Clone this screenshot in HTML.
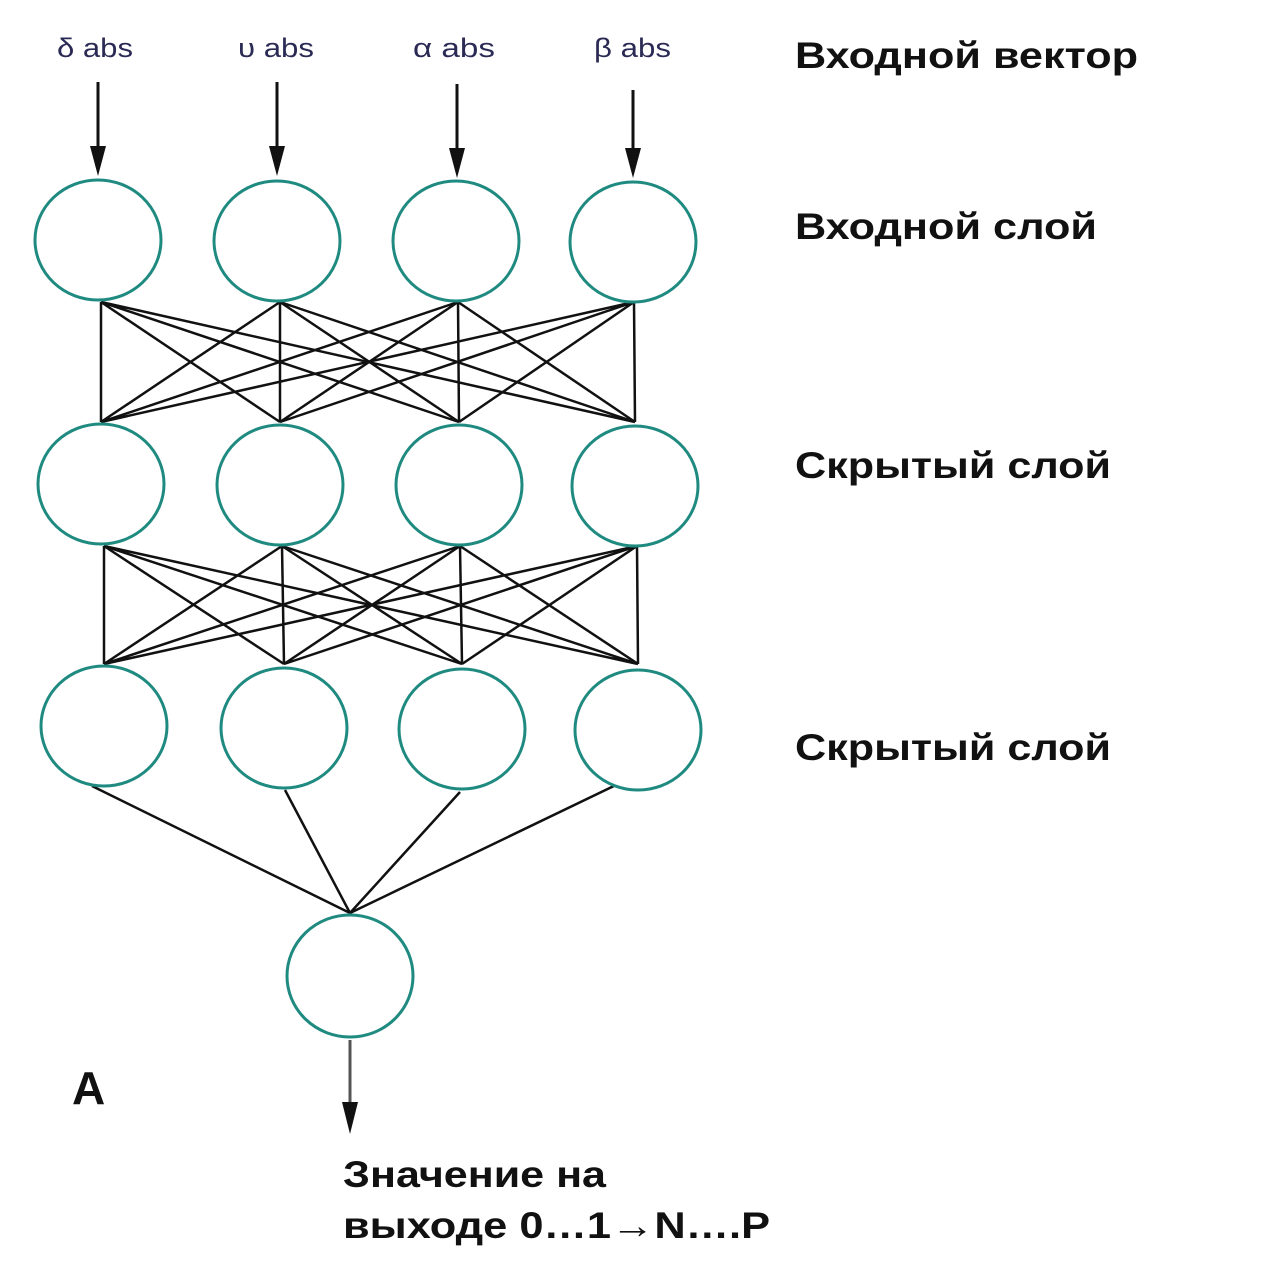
<!DOCTYPE html>
<html><head><meta charset="utf-8"><style>
html,body{margin:0;padding:0;background:#fff;}
svg{display:block;}
.r{font-family:"Liberation Sans",sans-serif;font-weight:bold;font-size:37px;fill:#111;}
.i{font-family:"Liberation Sans",sans-serif;font-size:27px;fill:#2a2a55;}
</style></head><body>
<svg width="1269" height="1269" viewBox="0 0 1269 1269" xmlns="http://www.w3.org/2000/svg">
<g class="i">
<text x="57" y="57" textLength="76" lengthAdjust="spacingAndGlyphs">δ abs</text>
<text x="238" y="57" textLength="76" lengthAdjust="spacingAndGlyphs">υ abs</text>
<text x="413" y="57" textLength="82" lengthAdjust="spacingAndGlyphs">α abs</text>
<text x="594" y="57" textLength="77" lengthAdjust="spacingAndGlyphs">β abs</text>
</g>
<g stroke="#111" stroke-width="3" fill="none">
<line x1="98" y1="82" x2="98" y2="150"/>
<line x1="277" y1="82" x2="277" y2="150"/>
<line x1="457" y1="84" x2="457" y2="152"/>
<line x1="633" y1="90" x2="633" y2="152"/>
<line x1="350" y1="1040" x2="350" y2="1106" stroke="#555"/>
</g>
<g fill="#111">
<polygon points="90,146 106,146 98,176"/>
<polygon points="269,146 285,146 277,176"/>
<polygon points="449,148 465,148 457,178"/>
<polygon points="625,148 641,148 633,178"/>
<polygon points="342,1102 358,1102 350,1134"/>
</g>
<g stroke="#111" stroke-width="2.5" fill="none">
<path d="M101,302L101,422M101,302L280,422M101,302L459,422M101,302L635,422
M280,302L101,422M280,302L280,422M280,302L459,422M280,302L635,422
M458,302L101,422M458,302L280,422M458,302L459,422M458,302L635,422
M634,302L101,422M634,302L280,422M634,302L459,422M634,302L635,422"/>
<path d="M104,546L104,664M104,546L284,664M104,546L462,664M104,546L638,664
M282,546L104,664M282,546L284,664M282,546L462,664M282,546L638,664
M460,546L104,664M460,546L284,664M460,546L462,664M460,546L638,664
M637,546L104,664M637,546L284,664M637,546L462,664M637,546L638,664"/>
<path d="M92,786L350,913M285,790L350,913M460,792L350,913M618,784L350,913"/>
</g>
<g stroke="#1f8a80" stroke-width="3" fill="#fff">
<ellipse cx="98" cy="240" rx="63" ry="60"/><ellipse cx="277" cy="241" rx="63" ry="60"/><ellipse cx="456" cy="241" rx="63" ry="60"/><ellipse cx="633" cy="242" rx="63" ry="60"/>
<ellipse cx="101" cy="484" rx="63" ry="60"/><ellipse cx="280" cy="485" rx="63" ry="60"/><ellipse cx="459" cy="485" rx="63" ry="60"/><ellipse cx="635" cy="486" rx="63" ry="60"/>
<ellipse cx="104" cy="726" rx="63" ry="60"/><ellipse cx="284" cy="728" rx="63" ry="60"/><ellipse cx="462" cy="729" rx="63" ry="60"/><ellipse cx="638" cy="730" rx="63" ry="60"/>
<ellipse cx="350" cy="976" rx="63" ry="61"/>
</g>
<text class="r" x="795" y="68" textLength="343" lengthAdjust="spacingAndGlyphs">Входной вектор</text>
<text class="r" x="795" y="239" textLength="302" lengthAdjust="spacingAndGlyphs">Входной слой</text>
<text class="r" x="795" y="478" textLength="316" lengthAdjust="spacingAndGlyphs">Скрытый слой</text>
<text class="r" x="795" y="760" textLength="316" lengthAdjust="spacingAndGlyphs">Скрытый слой</text>
<text class="r" x="72" y="1104" style="font-size:46px">A</text>
<text class="r" x="343" y="1187" textLength="263" lengthAdjust="spacingAndGlyphs">Значение на</text>
<text class="r" x="343" y="1238" textLength="427" lengthAdjust="spacingAndGlyphs">выходе 0…1→N….P</text>
</svg>
</body></html>
